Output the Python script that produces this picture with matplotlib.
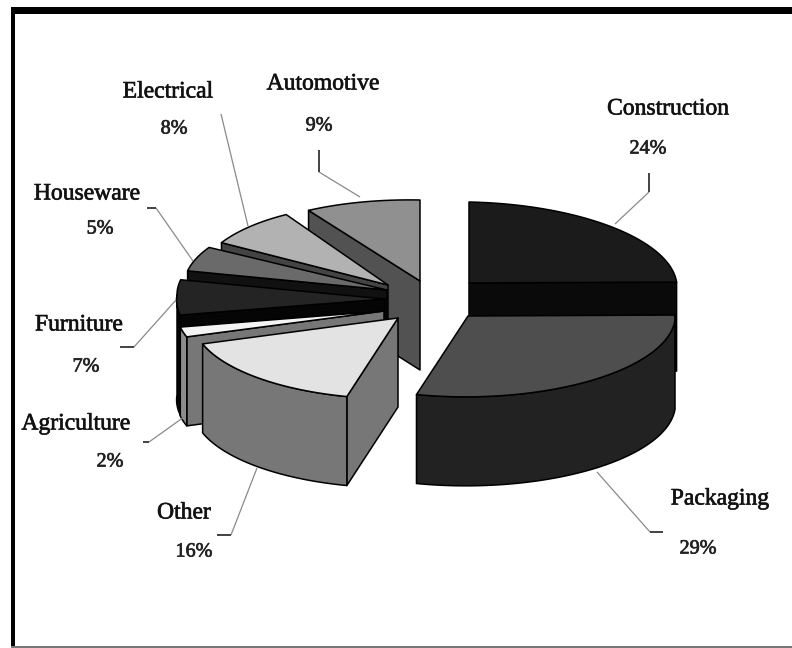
#!/usr/bin/env python3
"""Exploded 3-D pie of plastics use by sector, drawn as painted polygons."""

import matplotlib
matplotlib.use("Agg")
import matplotlib.patheffects as pe
import matplotlib.pyplot as plt
import numpy as np
from matplotlib.patches import Polygon, Rectangle

# ── Data ───────────────────────────────────────────────────────────────────
SECTORS = ["Construction", "Packaging", "Other", "Agriculture",
           "Furniture", "Houseware", "Electrical", "Automotive"]
SHARES = [24, 29, 16, 2, 7, 5, 8, 9]

# ── Layout (pixels, y pointing down) ───────────────────────────────────────
APEX_X = [469, 468, 398, 384, 385, 387, 388, 420]
APEX_Y = [283, 316, 318, 311, 299, 290, 285, 281]
RADIUS_X = [208, 207, 205, 207, 208, 203, 190, 208]
RADIUS_Y = 81
DEPTHS = [89, 89, 89, 89, 100, 89, 89, 89]
FRONT_SKEW = 0.16
TILT = 0.02
DRAW_ORDER = [0, 7, 6, 5, 4, 3, 2, 1]

TOP_COLORS = ["#1b1b1b", "#4e4e4e", "#e3e3e3", "#f4f4f4",
              "#242424", "#6a6a6a", "#b2b2b2", "#909090"]
RADIAL_COLORS = ["#0a0a0a", "#222222", "#777777", "#777777",
                 "#050505", "#111111", "#444444", "#525252"]
OUTER_COLORS = ["#0a0a0a", "#222222", "#777777", "#8c8c8c",
                "#050505", "#333333", "#666666", "#525252"]

NAME_POS = [(668, 109), (720, 499), (184, 513), (76, 424),
            (79, 325), (87, 194), (168, 92), (323, 84)]
PCT_POS = [(648, 149), (698, 549), (194, 552), (110, 462),
           (86, 367), (100, 229), (174, 129), (319, 126)]

# stub start, elbow, end on the slice
LEADERS = [
    [(649, 173), (649, 192), (615, 224)],
    [(663, 532), (650, 532), (597, 472)],
    [(217, 535), (231, 535), (257, 468)],
    [(143, 442), (149, 442), (184, 417)],
    [(120, 347), (134, 347), (176, 300)],
    [(147, 208), (156, 208), (193, 261)],
    [None, (221, 114), (248, 226)],
    [(319, 150), (319, 172), (360, 197)],
]

EDGE = dict(edgecolor="black", linewidth=1.1, joinstyle="round")


def rim(idx, angles):
    """Top-face rim points of slice idx for clockwise angles from 12 o'clock."""
    rad = np.radians(angles)
    dy = -RADIUS_Y * np.cos(rad)
    dx = RADIUS_X[idx] * np.sin(rad) - FRONT_SKEW * np.clip(dy, 0, None)
    return np.column_stack([APEX_X[idx] + dx, APEX_Y[idx] + dy + TILT * dx])


def draw_slice(ax, idx, start, end):
    apex = np.array([APEX_X[idx], APEX_Y[idx]], dtype=float)
    drop = np.array([0, DEPTHS[idx]])

    # radial walls that face the viewer
    for angle, visible in ((start, np.sin(np.radians(start)) < -1e-6),
                           (end, np.sin(np.radians(end)) > 1e-6)):
        if visible:
            p = rim(idx, np.array([angle]))[0]
            ax.add_patch(Polygon([apex, p, p + drop, apex + drop],
                                 facecolor=RADIAL_COLORS[idx], **EDGE))

    # outer curved wall, front half only
    lo, hi = max(start, 90), min(end, 270)
    if lo < hi:
        pts = rim(idx, np.linspace(lo, hi, 60))
        ax.add_patch(Polygon(np.vstack([pts, pts[::-1] + drop]),
                             facecolor=OUTER_COLORS[idx], **EDGE))

    # top face
    pts = rim(idx, np.linspace(start, end, 80))
    ax.add_patch(Polygon(np.vstack([apex, pts]),
                         facecolor=TOP_COLORS[idx], **EDGE))


def main():
    fig = plt.figure(figsize=(7.92, 6.48), dpi=100, facecolor="white")
    ax = fig.add_axes([0, 0, 1, 1])
    ax.set_xlim(0, 792)
    ax.set_ylim(648, 0)
    ax.axis("off")

    # frame: heavy top and left rules, hairline along the bottom
    ax.add_patch(Rectangle((11, 7), 781, 6.5, facecolor="black", edgecolor="none"))
    ax.add_patch(Rectangle((11, 7), 4, 641, facecolor="black", edgecolor="none"))
    ax.add_patch(Rectangle((11, 646), 781, 2, facecolor="#777777", edgecolor="none"))

    edges = np.cumsum([0] + SHARES) * 3.6
    for idx in DRAW_ORDER:
        draw_slice(ax, idx, edges[idx], edges[idx + 1])

    for stub, elbow, tip in LEADERS:
        ax.plot(*zip(elbow, tip), color="#8a8a8a", lw=0.9, solid_capstyle="butt")
        if stub is not None:
            ax.plot(*zip(stub, elbow), color="#222222", lw=1.2, solid_capstyle="butt")

    # slightly heavier strokes than the regular serif weight
    heavy = [pe.withStroke(linewidth=0.5, foreground="#222222")]
    for name, share, npos, ppos in zip(SECTORS, SHARES, NAME_POS, PCT_POS):
        ax.text(*npos, name, ha="center", va="center", color="#111111",
                family="Liberation Serif", fontsize=17, path_effects=heavy)
        ax.text(*ppos, f"{share}%", ha="center", va="center", color="#222222",
                family="Liberation Serif", fontsize=14.5, path_effects=heavy)

    fig.savefig("out.png", dpi=100)
    plt.close(fig)


if __name__ == "__main__":
    main()
